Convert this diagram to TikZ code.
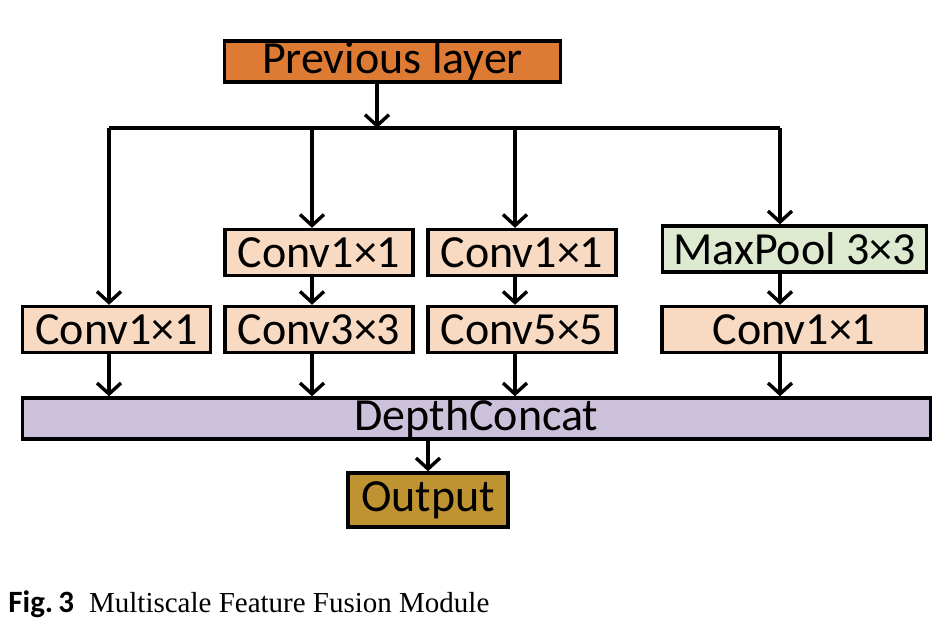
\documentclass[tikz,border=0pt]{standalone}
\usepackage{fontspec}
\setmainfont{Liberation Serif}
\newfontfamily\boxfont{Carlito}
\usetikzlibrary{arrows.meta}

\definecolor{prev fill}{HTML}{DD7B34}
\definecolor{conv fill}{HTML}{F8D9C1}
\definecolor{pool fill}{HTML}{DEEAD0}
\definecolor{concat fill}{HTML}{CCC1DA}
\definecolor{output fill}{HTML}{BF9331}
\tikzset{
  block/.style={draw=black, line width=1.7pt, inner sep=0pt,
    font=\boxfont\fontsize{23}{27}\selectfont},
  conv/.style={block, fill=conv fill, minimum width=94pt, minimum height=23pt},
  wide/.style={block, fill=conv fill, minimum width=132pt, minimum height=23pt}
  }
\tikzstyle{edge} = [draw, line width=1.7pt, -{Straight Barb[length=5.5pt,width=12pt,line width=1.7pt]}]
\tikzstyle{line} = [draw, line width=1.7pt, -]

\begin{document}
\begin{tikzpicture}[x=0.5pt, y=-0.5pt]
    \useasboundingbox (0,0) rectangle (948,643);

    % Definition of the boxes
    \node[block, fill=prev fill, minimum width=168pt, minimum height=20.5pt] (prev) at (392.5,61.5) {Previous layer};

    \foreach \pos/\name/\txt in {{(116.5,329.5)/a1/Conv1×1}, {(319,252.5)/b1/Conv1×1},
        {(319,329.5)/b2/Conv3×3}, {(522,252.5)/c1/Conv1×1}, {(522,329.5)/c2/Conv5×5}} {
      \node[conv] (\name) at \pos {\txt};
    }
    \node[wide, fill=pool fill] (d1) at (794.5,249) {MaxPool 3×3};
    \node[wide] (d2) at (794,329.5) {Conv1×1};

    \node[block, fill=concat fill, minimum width=454pt, minimum height=20.5pt] (concat) at (476.5,418.5) {DepthConcat};
    \node[block, fill=output fill, minimum width=80pt, minimum height=27pt] (output) at (428,500) {Output};

    % Branches
    \coordinate (split) at (377,128);
    \foreach \col/\xx in {a/109, b/312, c/515, d/780} {
      \coordinate (k\col) at (\xx,128);
    }
    \path[line] (ka) -- (kd);
    \path[edge] (prev.south -| split) -- (split);

    \path[edge] (ka) -- (ka |- a1.north);
    \path[edge] (kb) -- (kb |- b1.north);
    \path[edge] (kc) -- (kc |- c1.north);
    \path[edge] (kd) -- (kd |- d1.north);

    \path[edge] (kb |- b1.south) -- (kb |- b2.north);
    \path[edge] (kc |- c1.south) -- (kc |- c2.north);
    \path[edge] (kd |- d1.south) -- (kd |- d2.north);

    \path[edge] (ka |- a1.south) -- (ka |- concat.north);
    \path[edge] (kb |- b2.south) -- (kb |- concat.north);
    \path[edge] (kc |- c2.south) -- (kc |- concat.north);
    \path[edge] (kd |- d2.south) -- (kd |- concat.north);

    \path[edge] (output.north |- concat.south) -- (output.north);

    % Caption
    \node[anchor=base west, inner sep=0pt, font=\fontsize{14.5}{17}\selectfont] (caption) at (8,612)
      {{\boxfont\bfseries\fontsize{15.5}{17}\selectfont Fig.\,3}\hspace{7.5pt}Multiscale Feature Fusion Module};
\end{tikzpicture}
\end{document}
